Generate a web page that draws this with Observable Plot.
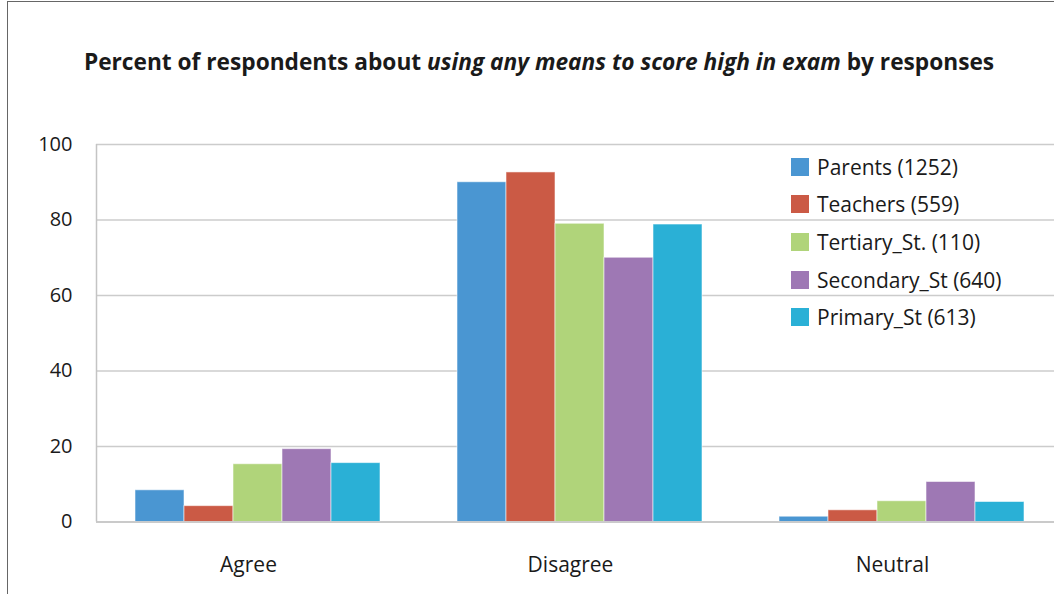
<!DOCTYPE html>
<html>
<head>
<meta charset="utf-8">
<script src="https://cdn.jsdelivr.net/npm/d3@7"></script>
<script src="https://cdn.jsdelivr.net/npm/@observablehq/plot@0.6"></script>
<style>
  html, body { margin: 0; padding: 0; background: #fff; }
  #page {
    position: relative; width: 1054px; height: 594px; overflow: hidden;
    font-family: "Open Sans", "DejaVu Sans", sans-serif; color: #1a1a1a;
  }
  #frame {
    position: absolute; left: 7px; top: 1px; right: -10px; bottom: -10px;
    border-left: 1px solid #666; border-top: 1px solid #666;
  }
  #title {
    position: absolute; left: 0; top: 0; width: 1054px; height: 110px;
    text-align: center; line-height: 124px; font-size: 22.7px; font-weight: 700;
    padding-left: 24px; box-sizing: border-box;
  }
  #chart { position: absolute; left: 0; top: 110px; }
  #legend { position: absolute; left: 791px; top: 148px; }
  .row { display: flex; align-items: center; height: 37.6px; font-size: 21px; }
  .sw { width: 18px; height: 18px; margin-right: 8px; }
</style>
</head>
<body>
<div id="page">
  <div id="frame"></div>
  <div id="title">Percent of respondents about <i>using any means to score high in exam</i> by responses</div>
  <div id="chart"></div>
  <div id="legend"></div>
</div>
<script>
// Response categories and respondent groups
const categories = ["Agree", "Disagree", "Neutral"];
const series = ["Parents (1252)", "Teachers (559)", "Tertiary_St. (110)", "Secondary_St (640)", "Primary_St (613)"];
const colors = ["#4A96D2", "#CB5A45", "#B0D47A", "#9E78B4", "#2AB0D6"];

// Percent of each group giving each response
const agree    = [8.4, 4.2, 15.3, 19.3, 15.6];
const disagree = [90.0, 92.6, 79.0, 70.0, 78.8];
const neutral  = [1.4, 3.1, 5.5, 10.6, 5.3];
const yTicks = [0, 20, 40, 60, 80, 100];

const byCategory = {Agree: agree, Disagree: disagree, Neutral: neutral};
const data = categories.flatMap(c => series.map((s, i) => ({category: c, series: s, value: byCategory[c][i]})));

const chart = Plot.plot({
  width: 1054,
  height: 484,
  marginTop: 34,
  marginBottom: 72.5,
  marginLeft: 96,
  marginRight: -8,
  style: {fontFamily: "'Open Sans', sans-serif", color: "#1a1a1a", background: "transparent"},
  fx: {domain: categories, padding: 0, label: null},
  x: {domain: series, paddingInner: 0, paddingOuter: 0.755, axis: null},
  y: {domain: [0, 100], label: null},
  color: {domain: series, range: colors},
  marks: [
    Plot.gridY(yTicks, {stroke: "#cccccc", strokeOpacity: 1, strokeWidth: 1.5}),
    Plot.axisY(yTicks, {tickSize: 0, tickPadding: 24, fontSize: 20, label: null}),
    Plot.axisFx({tickSize: 0, tickPadding: 35, fontSize: 21, dx: -9, label: null, anchor: "bottom"}),
    Plot.barY(data, {fx: "category", x: "series", y: "value", fill: "series",
      stroke: "#ffffff", strokeOpacity: 0.55, strokeWidth: 1}),
    Plot.ruleY([0], {stroke: "#c4c4c4", strokeWidth: 1.5})
  ]
});
document.getElementById("chart").appendChild(chart);

// Left axis line of the plotting area
const svg = d3.select(chart);
const yScale = chart.scale("y");
svg.append("line")
  .attr("x1", 96.5).attr("x2", 96.5)
  .attr("y1", yScale.apply(100)).attr("y2", yScale.apply(0))
  .attr("stroke", "#c4c4c4").attr("stroke-width", 1.5);

// Legend
const legend = document.getElementById("legend");
series.forEach((s, i) => {
  const row = document.createElement("div");
  row.className = "row";
  row.innerHTML = `<div class="sw" style="background:${colors[i]}"></div><span>${s}</span>`;
  legend.appendChild(row);
});
</script>
</body>
</html>
